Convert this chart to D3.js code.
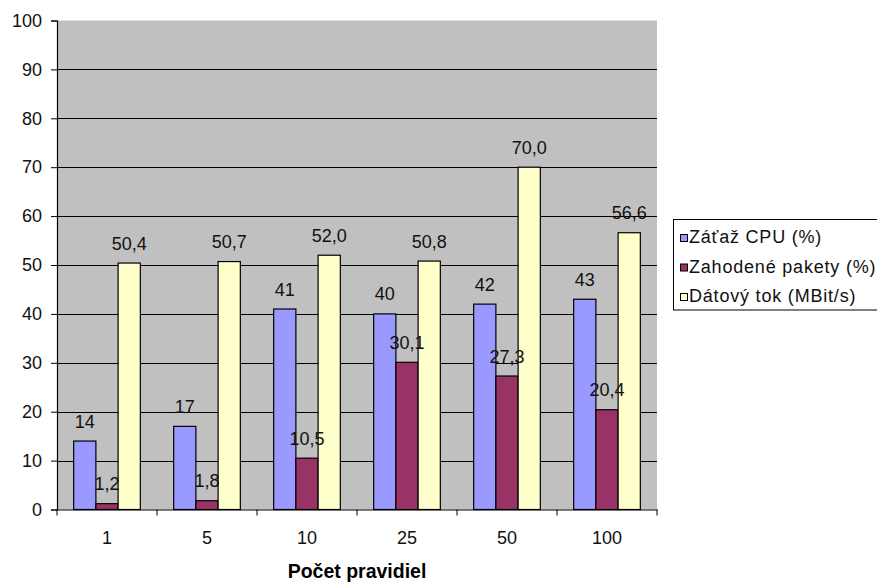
<!DOCTYPE html>
<html>
<head>
<meta charset="utf-8">
<script src="https://cdn.jsdelivr.net/npm/d3@7"></script>
<style>
  html, body { margin: 0; padding: 0; background: #fff; }
  svg { display: block; font-family: "Liberation Sans", Arial, sans-serif; }
</style>
</head>
<body>
<svg id="chart" width="877" height="584"></svg>
<script>
// Number of rules vs. measured load
const categories = ["1", "5", "10", "25", "50", "100"];
const seriesNames = ["Záťaž CPU (%)", "Zahodené pakety (%)", "Dátový tok (MBit/s)"];
const cpuLoad = [14, 17, 41, 40, 42, 43];
const droppedPackets = [1.2, 1.8, 10.5, 30.1, 27.3, 20.4];
const dataRate = [50.4, 50.7, 52.0, 50.8, 70.0, 56.6];
const yTicks = [0, 10, 20, 30, 40, 50, 60, 70, 80, 90, 100];
const colors = ["#9999FF", "#993366", "#FFFFCC"];
const decimals = [0, 1, 1];
const xTitle = "Počet pravidiel";

const series = [cpuLoad, droppedPackets, dataRate];
const FONT = "'Liberation Sans', Arial, sans-serif";
const FS = 18;

const svg = d3.select("#chart");
const plot = { left: 57, right: 657, top: 20.5, bottom: 509.5 };

const x0 = d3.scaleBand().domain(categories).range([plot.left, plot.right]).paddingInner(0).paddingOuter(0);
const x1 = d3.scaleBand().domain(d3.range(series.length)).range([0, x0.bandwidth()]).paddingInner(0).paddingOuter(0.75);
const y = d3.scaleLinear().domain([0, 100]).range([plot.bottom, plot.top]);

const fmt = (v, d) => v.toFixed(d).replace(".", ",");

// plot background
svg.append("rect")
  .attr("x", plot.left).attr("y", plot.top)
  .attr("width", plot.right - plot.left).attr("height", plot.bottom - plot.top)
  .attr("fill", "#C0C0C0");

// horizontal gridlines
svg.append("g")
  .selectAll("line")
  .data(yTicks.filter(t => t > 0 && t < 100))
  .join("line")
  .attr("x1", plot.left).attr("x2", plot.right)
  .attr("y1", d => Math.round(y(d)) + 0.5).attr("y2", d => Math.round(y(d)) + 0.5)
  .attr("stroke", "#000").attr("stroke-width", 1.2);

// y axis
const yAxis = svg.append("g")
  .attr("transform", `translate(${plot.left},0)`)
  .call(d3.axisLeft(y).tickValues(yTicks).tickSize(6).tickPadding(9).tickFormat(d3.format("d")));
yAxis.select(".domain").attr("stroke", "#000").attr("stroke-width", 1.2);
yAxis.selectAll(".tick line").attr("stroke", "#000");
yAxis.selectAll(".tick text").attr("font-size", FS).attr("fill", "#111").attr("font-family", FONT);

// bars
const groups = svg.append("g")
  .selectAll("g")
  .data(categories)
  .join("g")
  .attr("transform", d => `translate(${x0(d)},0)`);

groups.selectAll("rect")
  .data((c, ci) => series.map((s, si) => ({ si, v: s[ci] })))
  .join("rect")
  .attr("x", d => x1(d.si))
  .attr("y", d => y(d.v))
  .attr("width", x1.bandwidth())
  .attr("height", d => y(0) - y(d.v))
  .attr("fill", d => colors[d.si])
  .attr("stroke", "#000")
  .attr("stroke-width", 1.2);

// value labels
groups.selectAll("text.val")
  .data((c, ci) => series.map((s, si) => ({ si, v: s[ci] })))
  .join("text")
  .attr("class", "val")
  .attr("x", d => x1(d.si) + x1.bandwidth() / 2)
  .attr("y", d => y(d.v) - 13.5)
  .attr("text-anchor", "middle")
  .attr("font-size", FS)
  .attr("fill", "#111")
  .text(d => fmt(d.v, decimals[d.si]));

// x axis
const xAxis = svg.append("g")
  .attr("transform", `translate(0,${plot.bottom})`)
  .call(d3.axisBottom(x0).tickSize(0).tickPadding(22));
xAxis.select(".domain").attr("stroke", "#000").attr("stroke-width", 1.2);
xAxis.selectAll(".tick text").attr("font-size", FS).attr("fill", "#111").attr("font-family", FONT);

// category separator ticks
svg.append("g")
  .selectAll("line")
  .data(categories.map(c => x0(c)).concat([plot.right]))
  .join("line")
  .attr("x1", d => d).attr("x2", d => d)
  .attr("y1", plot.bottom).attr("y2", plot.bottom + 6)
  .attr("stroke", "#000");

// x axis title
svg.append("text")
  .attr("x", (plot.left + plot.right) / 2).attr("y", 578)
  .attr("text-anchor", "middle")
  .attr("font-size", 19.5).attr("font-weight", "bold")
  .attr("fill", "#000")
  .text(xTitle);

// legend
const legend = svg.append("g");
legend.append("rect")
  .attr("x", 673.5).attr("y", 219.5)
  .attr("width", 210).attr("height", 90.5)
  .attr("fill", "#fff").attr("stroke", "#000");

const items = legend.selectAll("g.item")
  .data(seriesNames)
  .join("g")
  .attr("class", "item")
  .attr("transform", (d, i) => `translate(680,${243 + i * 29.5})`);

items.append("rect")
  .attr("x", 0.5).attr("y", -8.5)
  .attr("width", 7).attr("height", 7)
  .attr("fill", (d, i) => colors[i])
  .attr("stroke", "#000");

items.append("text")
  .attr("x", 9).attr("y", 0)
  .attr("font-size", FS)
  .attr("letter-spacing", 0.8)
  .attr("fill", "#111")
  .text(d => d);
</script>
</body>
</html>
